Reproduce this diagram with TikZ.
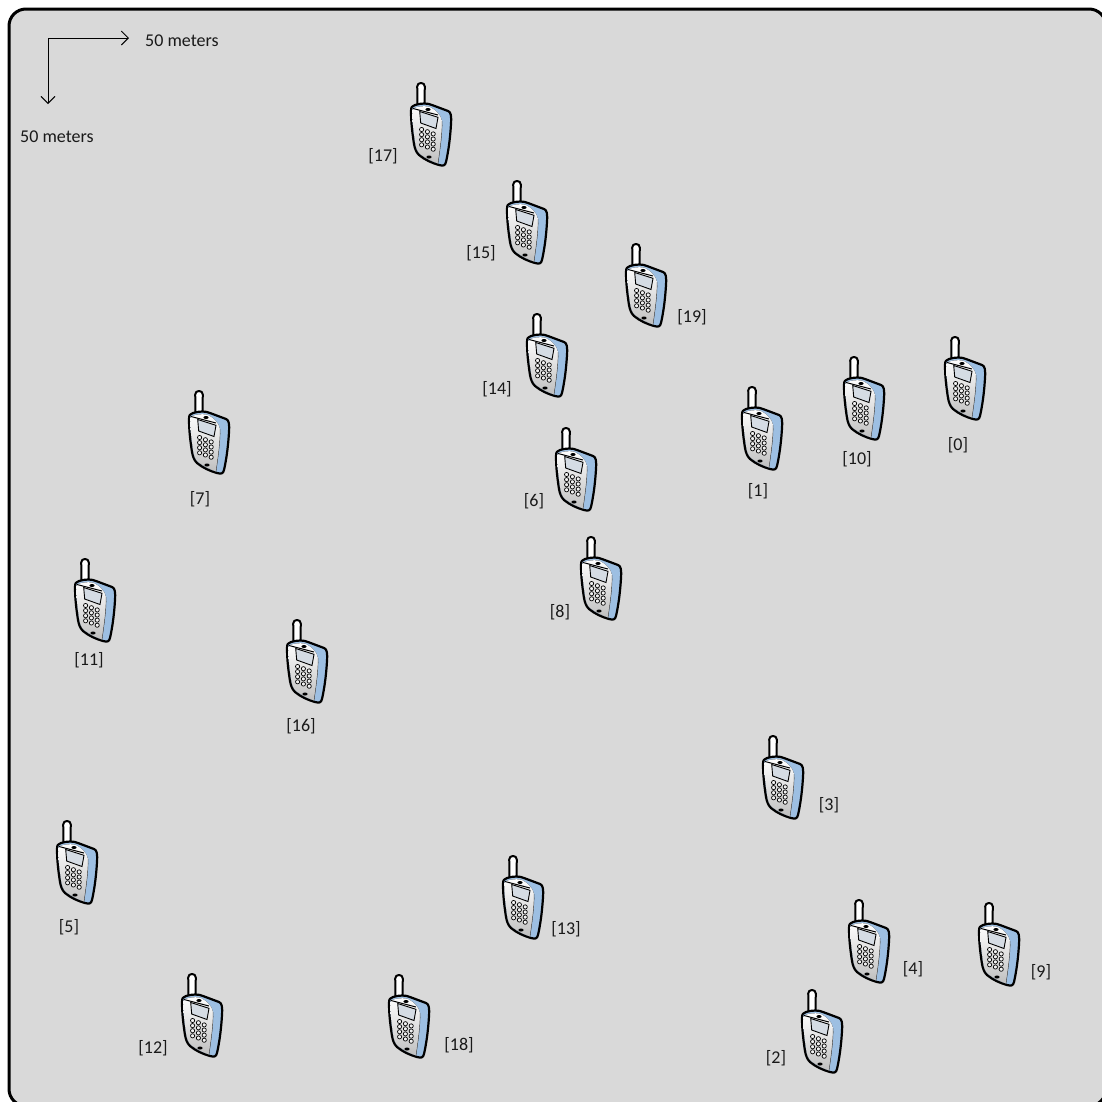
\documentclass[tikz,border=0pt]{standalone}
\usepackage{fontspec}
\setmainfont{Carlito}
\usetikzlibrary{arrows.meta}
\definecolor{panelgray}{HTML}{D9D9D9}
\definecolor{phoneblue}{HTML}{9DBFE2}
\definecolor{screenblue}{HTML}{D5DCE4}
\tikzset{
	phonetag/.style={font=\fontsize{18}{18}\selectfont, text=black!90, inner sep=0pt},
	axisarrow/.style={draw=black, line width=0.9pt, -{Straight Barb[length=7pt, width=14pt, line width=0.9pt]}},
	phone/.pic={
		% antenna
		\draw[line width=2pt, fill=white, rounded corners=3.5pt] (-3.6,23) -- (-3.8,0) -- (3.8,0) -- (3.6,23);
		% body
		\draw[line width=2.2pt, fill=phoneblue, line join=round] (-6,22) .. controls (0,20) and (7,20) .. (11,22) -- (27,28) .. controls (30,29) and (30.5,33) .. (30,41) .. controls (29,58) and (27,70) .. (25,79) .. controls (24,83) and (22,83) .. (18,82) .. controls (11,80) and (4,77) .. (-2,72) .. controls (-5,69) and (-6,66) .. (-7,61) .. controls (-9,48) and (-10,38) .. (-10,28) .. controls (-10,24) and (-9,23) .. (-6,22) -- cycle;
		% front face
		\fill[top color=white, bottom color=black!25] (-8.8,27) .. controls (-8,24) and (3,22) .. (9,24) .. controls (15,27) and (20,32) .. (21,38) .. controls (21.5,50) and (19,66) .. (17,80.5) .. controls (11,78.5) and (4,75) .. (-1,71) .. controls (-4,68) and (-5,65) .. (-5.8,60) .. controls (-7.5,48) and (-8.8,38) .. (-8.8,27) -- cycle;
		\draw[line width=0.4pt, black!70] (21,38) .. controls (21.5,50) and (19,66) .. (17,81);
		% top bar and speaker
		\draw[line width=1pt] (-8,25.5) -- (17,32);
		\fill (7,26.5) ellipse (2.6 and 1.5);
		% screen
		\draw[line width=0.9pt, fill=screenblue] (-1.3,28.5) -- (17,34.3) -- (15,45.5) -- (-0.3,40) -- cycle;
		% keypad
		\foreach \row in {0,1,2,3}
			\foreach \col in {0,1,2}
				\draw[line width=0.7pt, fill=black!5] ({0.6+\col*5.8},{46.5+\row*5.1+\col*2.2}) circle (2.1);
		% lower button
		\fill (8,74) ellipse (2.6 and 1.5);
	},
}
\begin{document}
\begin{tikzpicture}[x=1pt, y=-1pt]
	\useasboundingbox (0,0) rectangle (1102,1101);
	\clip (0,0) rectangle (1102,1101);
	% panel
	\draw[line width=3pt, fill=panelgray, rounded corners=17pt] (9,9) rectangle (1106,1106);
	% scale arrows
	\coordinate (origin) at (48,38);
	\coordinate (east) at (129,38);
	\coordinate (south) at (48,104);
	\draw[axisarrow] (origin) -- (east);
	\draw[axisarrow] (origin) -- (south);
	\node[phonetag, anchor=west] (eastlabel) at (145,41) {50 meters};
	\node[phonetag, anchor=west] (southlabel) at (20,137) {50 meters};
	% phones, x / y / label x / label y / index
	\foreach \px/\py/\lx/\ly/\idx in {
		955/337/958/445/0, 752/387/758/491/1, 812/990/776/1058/2, 773/736/829/805/3,
		859/900/913/969/4, 67/821/69/927/5, 566/428/534/501/6, 199/391/200/499/7,
		591/537/560/612/8, 989/903/1041/972/9, 854/357/857/459/10, 85/559/89/660/11,
		192/974/153/1048/12, 513/856/566/929/13, 537/314/497/389/14, 517/181/481/253/15,
		297/620/301/726/16, 421/83/383/156/17, 399/975/459/1045/18, 636/244/692/317/19}
	{
		\pic (phone\idx) at (\px,\py) {phone};
		\node[phonetag] (tag\idx) at (\lx,\ly) {[\idx]};
	}
\end{tikzpicture}
\end{document}
